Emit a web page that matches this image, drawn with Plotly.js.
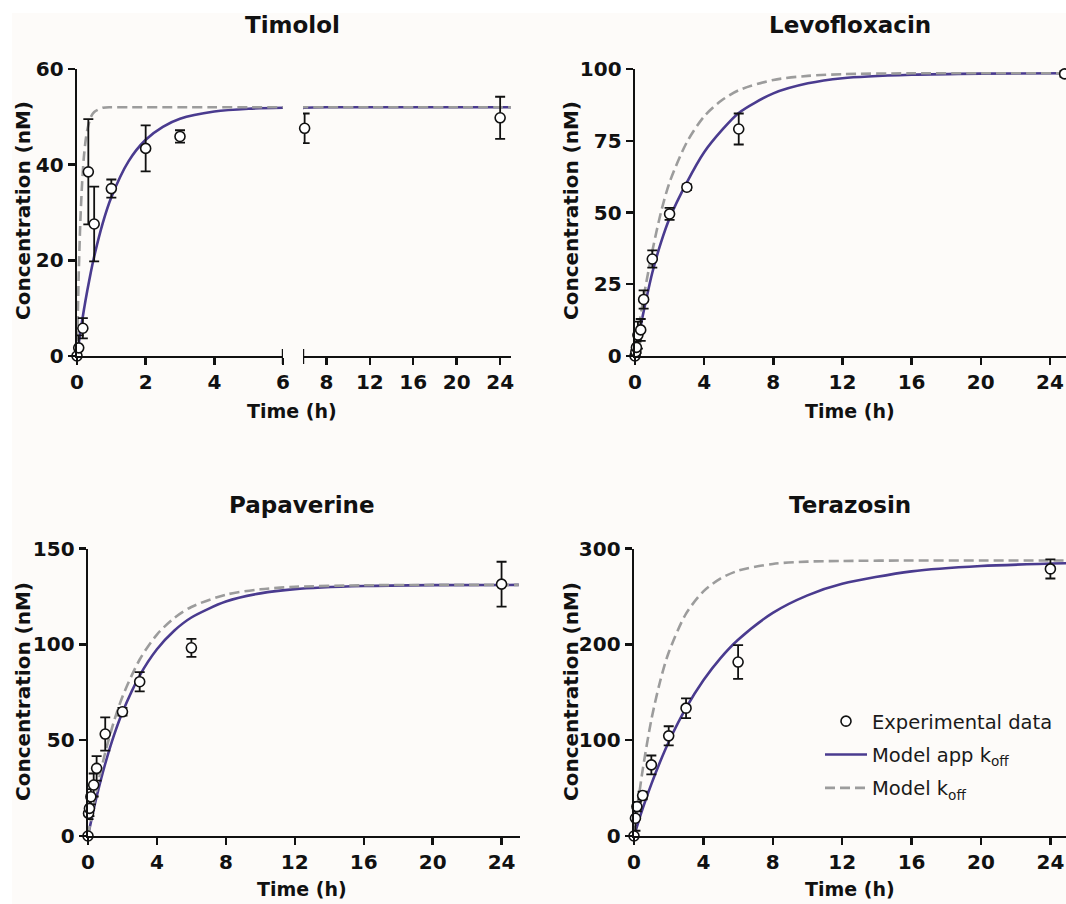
<!DOCTYPE html>
<html>
<head>
<meta charset="utf-8">
<script src="https://cdn.plot.ly/plotly-3.0.1.min.js"></script>
<style>
  html, body { margin: 0; padding: 0; background: #ffffff; }
  #chart { position: absolute; left: 0; top: 0; width: 1066px; height: 904px; }
</style>
</head>
<body>
<div id="chart"></div>
<script>
// ---------------- DATA ----------------
const panelTitles = ["Timolol", "Levofloxacin", "Papaverine", "Terazosin"];
const xTitle = "Time (h)";
const yTitle = "Concentration (nM)";
const legendNames = ["Experimental data", "Model app k<sub>off</sub>", "Model k<sub>off</sub>"];

// Timolol (broken x axis: 0-6 | 6-25)
const timololT   = [0, 0.05, 0.17, 0.33, 0.5, 1, 2, 3, 6, 24];
const timololY   = [0, 1.7, 5.8, 38.5, 27.6, 35.0, 43.4, 45.9, 47.6, 49.8];
const timololErr = [0, 2.6, 2.1, 11.0, 7.8, 1.9, 4.8, 1.3, 3.1, 4.4];
const timololFitT  = [0, 0.05, 0.1, 0.15, 0.2, 0.25, 0.3, 0.4, 0.5, 0.75, 1, 1.5, 2, 2.5, 3, 4, 5, 6, 8, 12, 16, 20, 25];
const timololApp   = [0, 2.6, 5.0, 7.4, 9.6, 11.7, 13.7, 17.4, 20.8, 27.8, 33.2, 40.7, 45.2, 47.9, 49.6, 51.1, 51.7, 51.9, 52, 52, 52, 52, 52];
const timololKoff  = [0, 17.1, 28.6, 36.3, 41.6, 45.0, 47.3, 49.9, 51.0, 51.9, 52, 52, 52, 52, 52, 52, 52, 52, 52, 52, 52, 52, 52];

// shared fit time grid for the other panels
const fitT = [0, 0.25, 0.5, 1, 1.5, 2, 3, 4, 5, 6, 8, 10, 12, 16, 20, 25];

// Levofloxacin
const levoT   = [0, 0.05, 0.083, 0.167, 0.33, 0.5, 1, 2, 3, 6, 24.85];
const levoY   = [0, 1.5, 3.0, 7.3, 9.1, 19.7, 33.8, 49.5, 58.8, 79.1, 98.3];
const levoErr = [0, 1.0, 2.0, 4.7, 3.8, 3.2, 3.0, 2.1, 1.0, 5.4, 1.0];
const levoApp  = [0, 8, 15.5, 29, 39.5, 48, 60.5, 71, 78.5, 84.7, 91.5, 95, 96.8, 98, 98.4, 98.5];
const levoKoff = [0, 11, 20.5, 36.5, 50, 60.5, 74.5, 83.5, 89, 92.6, 96.2, 97.6, 98.2, 98.5, 98.5, 98.5];

// Papaverine
const papT   = [0, 0.03, 0.083, 0.167, 0.33, 0.5, 1, 2, 3, 6, 24];
const papY   = [0, 11.8, 14.4, 20.5, 26.6, 35.3, 53.2, 64.8, 80.5, 98.2, 131.4];
const papErr = [0, 3, 4, 4, 6, 6.4, 8.7, 2, 5, 4.7, 11.7];
const papApp  = [0, 10.7, 20.5, 37.7, 52.4, 64.6, 83.7, 97.4, 107.1, 114, 122.3, 126.6, 128.8, 130.4, 130.9, 131];
const papKoff = [0, 12.6, 24, 43.6, 59.6, 72.7, 92.1, 105.1, 113.7, 119.5, 125.9, 128.7, 130, 130.8, 131, 131];

// Terazosin
const terT   = [0, 0.083, 0.167, 0.5, 1, 2, 3, 6, 24];
const terY   = [0, 18.5, 30.7, 42.2, 74.2, 104.5, 133.4, 181.5, 278.7];
const terErr = [0, 13, 5, 4, 9.8, 10, 10.3, 17.6, 10];
const terApp  = [0, 14.6, 28.5, 54.1, 77.2, 98.1, 133.6, 162.5, 185.9, 204.8, 232.8, 251.1, 263.1, 276.1, 281.7, 284.6];
const terKoff = [0, 36.8, 69, 121.3, 161, 191.5, 232, 255.3, 268.8, 276.8, 283.9, 286.3, 287, 287.5, 287.5, 287.5];

// tick values
const yTicks1 = [0, 20, 40, 60];
const yTicks2 = [0, 25, 50, 75, 100];
const yTicks3 = [0, 50, 100, 150];
const yTicks4 = [0, 100, 200, 300];
const xTicksA = [0, 2, 4, 6];
const xTicksB = [8, 12, 16, 20, 24];
const xTicksC = [0, 4, 8, 12, 16, 20, 24];

// ---------------- STYLE / LAYOUT ----------------
const W = 1066, H = 904;
const dx = p => p / W;
const dy = p => 1 - p / H;

const BG = '#fdfbf9';
const PURPLE = '#4a3b8f';
const GREY = '#9c9c9c';
const boldFont = (s) => ({family: 'DejaVu Sans, Arial, sans-serif', size: s, color: '#111', weight: 'bold'});

function pointsTrace(t, y, e, xa, ya, show, filter) {
  const idx = t.map((v, i) => i).filter(i => filter ? filter(t[i]) : true);
  return {
    x: idx.map(i => t[i]), y: idx.map(i => y[i]),
    error_y: {type: 'data', array: idx.map(i => e[i]), visible: true, color: '#111', thickness: 1.8, width: 5},
    mode: 'markers', type: 'scatter', xaxis: xa, yaxis: ya,
    marker: {symbol: 'circle', size: 10, color: '#ffffff', line: {color: '#111', width: 1.6}},
    cliponaxis: false, name: legendNames[0], showlegend: show, legendgroup: 'g1', hoverinfo: 'skip'
  };
}
function appTrace(t, y, xa, ya, show) {
  return {x: t, y: y, mode: 'lines', type: 'scatter', xaxis: xa, yaxis: ya,
    line: {color: PURPLE, width: 2.6, shape: 'spline', smoothing: 0.8},
    name: legendNames[1], showlegend: show, legendgroup: 'g2', hoverinfo: 'skip'};
}
function koffTrace(t, y, xa, ya, show) {
  return {x: t, y: y, mode: 'lines', type: 'scatter', xaxis: xa, yaxis: ya,
    line: {color: GREY, width: 2.6, dash: '10px,5px', shape: 'spline', smoothing: 0.8},
    name: legendNames[2], showlegend: show, legendgroup: 'g3', hoverinfo: 'skip'};
}

const terPoints = pointsTrace(terT, terY, terErr, 'x5', 'y4', true);
terPoints.legendrank = 1;
const terAppTr = appTrace(fitT, terApp, 'x5', 'y4', true); terAppTr.legendrank = 2;
const terKoffTr = koffTrace(fitT, terKoff, 'x5', 'y4', true); terKoffTr.legendrank = 3;

const traces = [
  // Timolol segment 1
  appTrace(timololFitT, timololApp, 'x', 'y', false),
  koffTrace(timololFitT, timololKoff, 'x', 'y', false),
  pointsTrace(timololT, timololY, timololErr, 'x', 'y', false, v => v < 5.5),
  // Timolol segment 2
  appTrace(timololFitT, timololApp, 'x2', 'y', false),
  koffTrace(timololFitT, timololKoff, 'x2', 'y', false),
  pointsTrace(timololT, timololY, timololErr, 'x2', 'y', false, v => v >= 5.5),
  // Levofloxacin
  appTrace(fitT, levoApp, 'x3', 'y2', false),
  koffTrace(fitT, levoKoff, 'x3', 'y2', false),
  pointsTrace(levoT, levoY, levoErr, 'x3', 'y2', false),
  // Papaverine
  appTrace(fitT, papApp, 'x4', 'y3', false),
  koffTrace(fitT, papKoff, 'x4', 'y3', false),
  pointsTrace(papT, papY, papErr, 'x4', 'y3', false),
  // Terazosin (carries legend)
  terAppTr, terKoffTr, terPoints
];

function axis(domain, range, ticks, anchor) {
  return {domain: domain, range: range, anchor: anchor, tickmode: 'array', tickvals: ticks,
    showline: true, linecolor: '#111', linewidth: 2.4, ticks: 'outside', ticklen: 7, tickwidth: 2.4,
    tickcolor: '#111', showgrid: false, zeroline: false, tickfont: boldFont(20), fixedrange: true};
}

const topY = [dy(356), dy(69)];
const botY = [dy(836), dy(548.5)];

const annotations = [];
const titlePos = [[292, 25], [850, 25], [302, 505], [850, 505]];
panelTitles.forEach((t, i) => annotations.push({
  text: t, xref: 'paper', yref: 'paper', x: dx(titlePos[i][0]), y: dy(titlePos[i][1]),
  xanchor: 'center', yanchor: 'middle', showarrow: false, font: boldFont(23)}));
[[292, 411], [850, 411], [302, 889], [850, 889]].forEach(p => annotations.push({
  text: xTitle, xref: 'paper', yref: 'paper', x: dx(p[0]), y: dy(p[1]),
  xanchor: 'center', yanchor: 'middle', showarrow: false, font: boldFont(19)}));
[[23, 211], [571, 211], [23, 692], [571, 692]].forEach(p => annotations.push({
  text: yTitle, xref: 'paper', yref: 'paper', x: dx(p[0]), y: dy(p[1]), textangle: -90,
  xanchor: 'center', yanchor: 'middle', showarrow: false, font: boldFont(20)}));

const shapes = [
  // off-white figure background with a thin white margin at top/left
  {type: 'rect', xref: 'paper', yref: 'paper', x0: dx(12), x1: 1, y0: 0, y1: dy(13),
   fillcolor: BG, line: {width: 0}, layer: 'below'},
  // axis-break bars on the Timolol x axis
  {type: 'line', xref: 'x', yref: 'paper', x0: 6, x1: 6, y0: dy(349), y1: dy(364), line: {color: '#111', width: 2.4}},
  {type: 'line', xref: 'x2', yref: 'paper', x0: 5.85, x1: 5.85, y0: dy(349), y1: dy(364), line: {color: '#111', width: 2.4}},
];

const layout = {
  width: W, height: H,
  margin: {l: 0, r: 0, t: 0, b: 0, pad: 0},
  paper_bgcolor: '#ffffff', plot_bgcolor: 'rgba(0,0,0,0)',
  showlegend: true,
  legend: {x: dx(820), y: dy(702), xanchor: 'left', yanchor: 'top', bgcolor: 'rgba(0,0,0,0)',
    font: {family: 'DejaVu Sans, Arial, sans-serif', size: 19.5, color: '#1a1a1a'},
    tracegroupgap: 5, traceorder: 'grouped', itemwidth: 42},
  xaxis:  axis([dx(77), dx(283)], [0, 6], xTicksA, 'y'),
  xaxis2: axis([dx(303), dx(511)], [5.85, 25], xTicksB, 'y'),
  xaxis3: axis([dx(635), 1], [0, 24.93], xTicksC, 'y2'),
  xaxis4: axis([dx(88), dx(520)], [0, 25.07], xTicksC, 'y3'),
  xaxis5: axis([dx(634), 1], [0, 24.9], xTicksC, 'y4'),
  yaxis:  axis(topY, [0, 60], yTicks1, 'x'),
  yaxis2: axis(topY, [0, 100], yTicks2, 'x3'),
  yaxis3: axis(botY, [0, 150], yTicks3, 'x4'),
  yaxis4: axis(botY, [0, 300], yTicks4, 'x5'),
  annotations: annotations,
  shapes: shapes,
  hovermode: false
};

Plotly.newPlot('chart', traces, layout, {displayModeBar: false, staticPlot: true});
</script>
</body>
</html>
